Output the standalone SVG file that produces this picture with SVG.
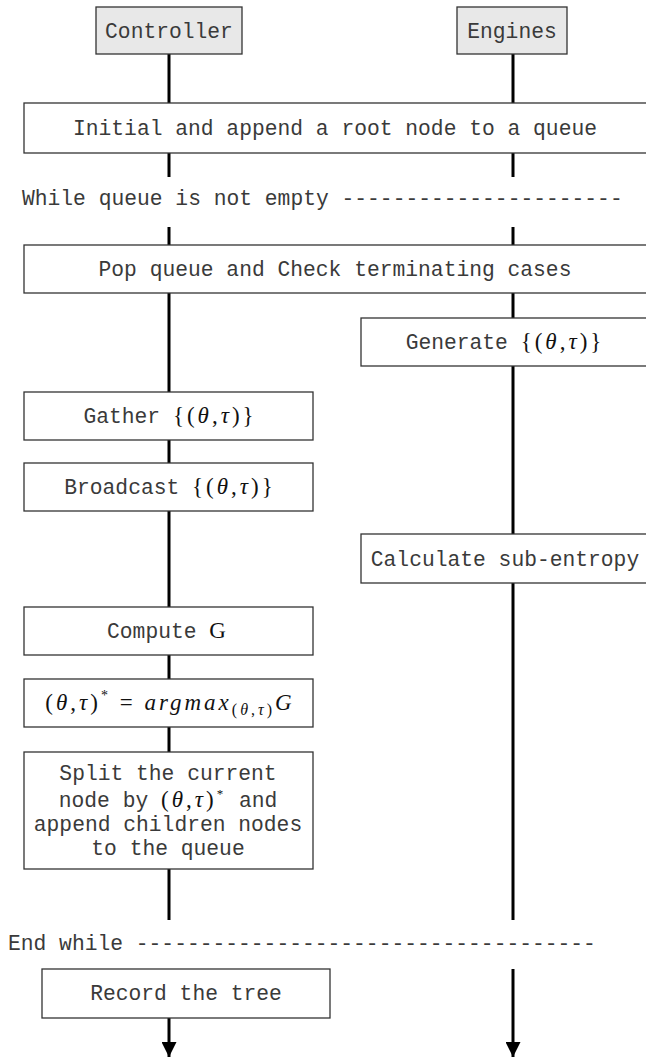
<svg xmlns="http://www.w3.org/2000/svg" width="646" height="1061" viewBox="0 0 646 1061">
<defs>
<style>
.box{fill:#fff;stroke:#333;stroke-width:1.3}
.actor{fill:#e8e8e8;stroke:#333;stroke-width:1.3}
.t{font-family:"Liberation Mono","Courier New",monospace;font-size:21.3px;fill:#3a3a3a}
.m{font-family:"Liberation Serif","Times New Roman",serif;font-size:23px;fill:#111;letter-spacing:3px}
.i{font-style:italic}
.life{stroke:#000;stroke-width:3;fill:none}
</style>
<marker id="ah" markerWidth="15" markerHeight="15" refX="7.5" refY="15" orient="0" markerUnits="userSpaceOnUse" viewBox="0 0 15 15">
<path d="M0,0 L15,0 L7.5,15 Z" fill="#000"/>
</marker>
</defs>
<rect width="646" height="1061" fill="#fff"/>
<g id="connectors">
<path class="life" d="M169,54V103M169,153V177M169,227V245M169,293V392M169,440V463M169,511V607M169,655V679M169,727V752M169,869V920"/>
<path class="life" d="M513,54V103M513,153V177M513,227V245M513,293V318M513,366V534M513,583V920"/>
<path class="life" d="M169,1018V1057" marker-end="url(#ah)"/>
<path class="life" d="M513,969V1057" marker-end="url(#ah)"/>
</g>
<g id="controller">
<rect class="actor" x="96" y="7" width="146" height="47"/>
<text class="t" x="169" y="38" text-anchor="middle">Controller</text>
</g>
<g id="engines">
<rect class="actor" x="457" y="7" width="110" height="47"/>
<text class="t" x="512" y="38" text-anchor="middle">Engines</text>
</g>
<g id="init">
<rect class="box" x="24" y="103" width="630" height="50"/>
<text class="t" x="335" y="135" text-anchor="middle">Initial and append a root node to a queue</text>
</g>
<g id="while">
<text class="t" x="22" y="205">While queue is not empty ----------------------</text>
</g>
<g id="pop">
<rect class="box" x="24" y="245" width="630" height="48"/>
<text class="t" x="335" y="276" text-anchor="middle">Pop queue and Check terminating cases</text>
</g>
<g id="generate">
<rect class="box" x="361" y="318" width="293" height="48"/>
<text class="t" x="505" y="349" text-anchor="middle">Generate <tspan class="m">{(<tspan class="i">θ</tspan>,<tspan class="i">τ</tspan>)}</tspan></text>
</g>
<g id="gather">
<rect class="box" x="24" y="392" width="289" height="48"/>
<text class="t" x="170" y="423" text-anchor="middle">Gather <tspan class="m">{(<tspan class="i">θ</tspan>,<tspan class="i">τ</tspan>)}</tspan></text>
</g>
<g id="broadcast">
<rect class="box" x="24" y="463" width="289" height="48"/>
<text class="t" x="170" y="494" text-anchor="middle">Broadcast <tspan class="m">{(<tspan class="i">θ</tspan>,<tspan class="i">τ</tspan>)}</tspan></text>
</g>
<g id="calculate">
<rect class="box" x="361" y="534" width="293" height="49"/>
<text class="t" x="505" y="566" text-anchor="middle">Calculate sub-entropy</text>
</g>
<g id="compute">
<rect class="box" x="24" y="607" width="289" height="48"/>
<text class="t" x="168" y="638" text-anchor="middle">Compute <tspan class="m" font-size="25" letter-spacing="0">G</tspan></text>
</g>
<g id="argmax">
<rect class="box" x="24" y="679" width="289" height="48"/>
<text class="m" x="170" y="710" text-anchor="middle" font-size="25" letter-spacing="1.5">(<tspan class="i">θ</tspan>,<tspan class="i">τ</tspan>)<tspan font-size="14" dy="-10">*</tspan><tspan dy="10"> = </tspan><tspan class="i">argmax</tspan><tspan font-size="16" dy="5">(<tspan class="i">θ</tspan>,<tspan class="i">τ</tspan>)</tspan><tspan class="i" dy="-5">G</tspan></text>
</g>
<g id="split">
<rect class="box" x="24" y="752" width="289" height="117"/>
<text class="t" x="168" y="780" text-anchor="middle">Split the current</text>
<text class="t" x="168" y="807" text-anchor="middle">node by <tspan class="m">(<tspan class="i">θ</tspan>,<tspan class="i">τ</tspan>)<tspan font-size="13" dy="-9">*</tspan></tspan><tspan dy="9"> and</tspan></text>
<text class="t" x="168" y="831" text-anchor="middle">append children nodes</text>
<text class="t" x="168" y="855" text-anchor="middle">to the queue</text>
</g>
<g id="endwhile">
<text class="t" x="8" y="950">End while ------------------------------------</text>
</g>
<g id="record">
<rect class="box" x="42" y="969" width="288" height="49"/>
<text class="t" x="186" y="1000" text-anchor="middle">Record the tree</text>
</g>
</svg>
